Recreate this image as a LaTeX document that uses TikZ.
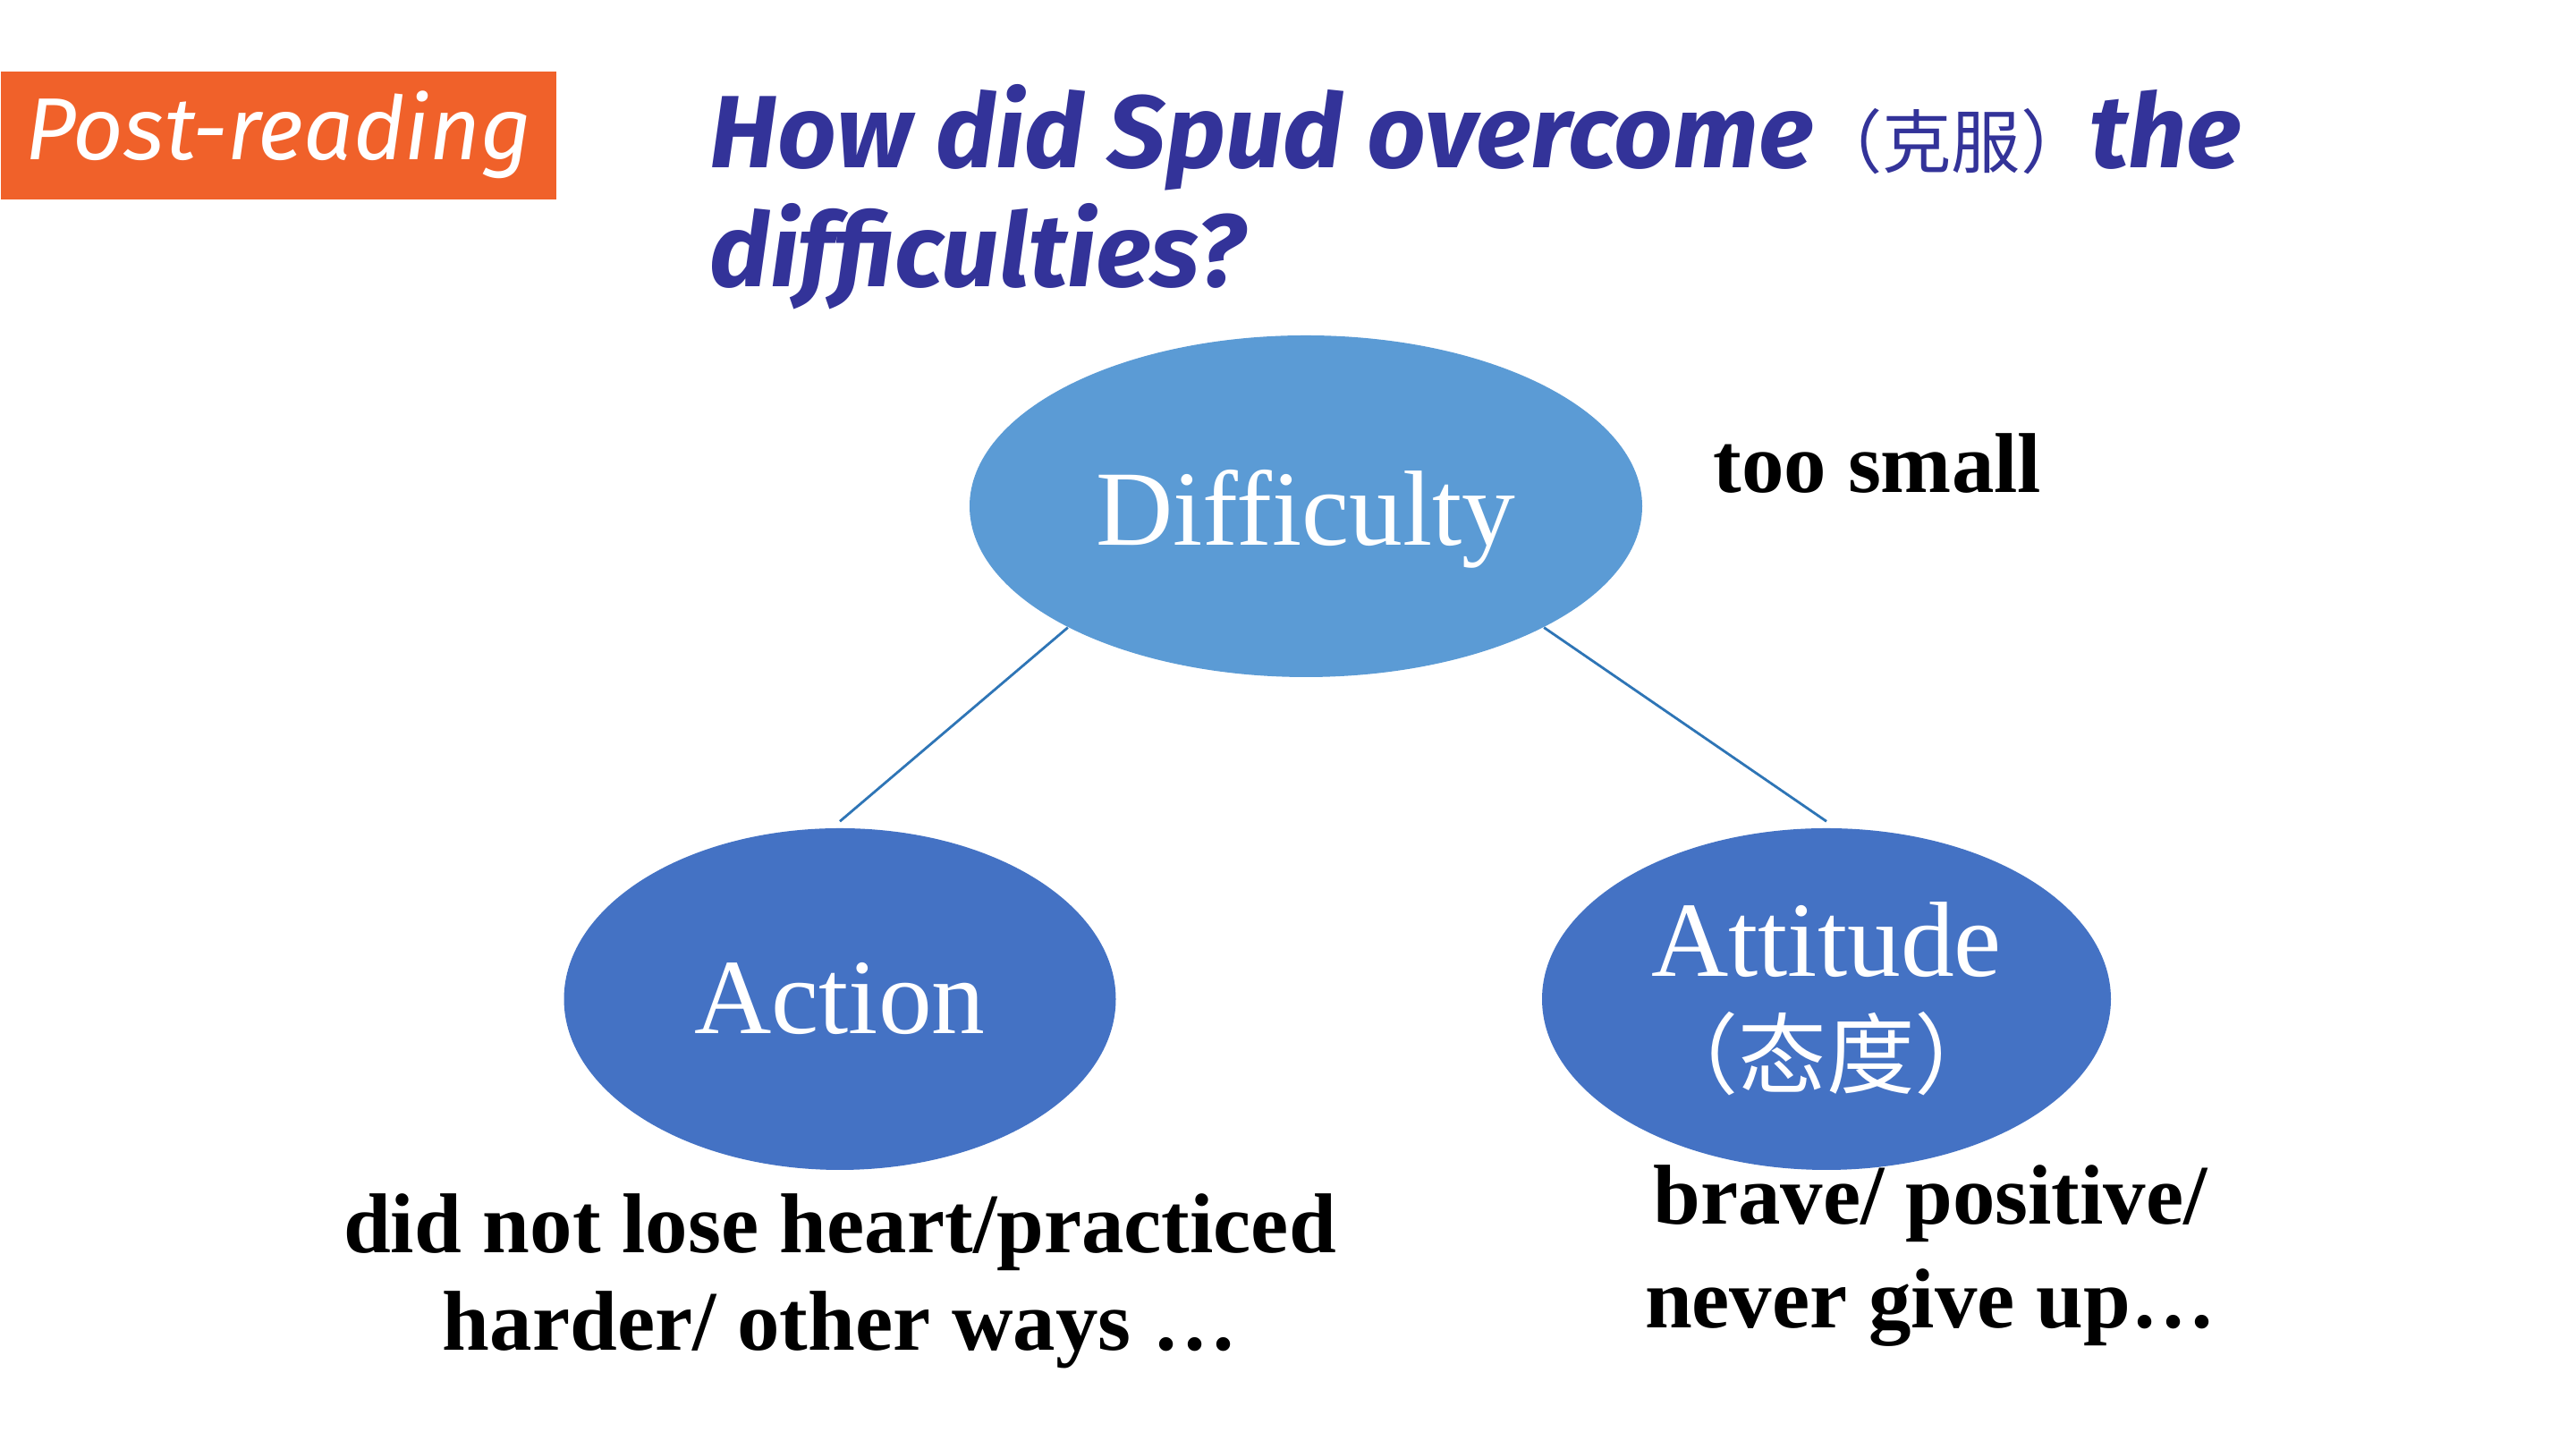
\documentclass[tikz,border=0pt]{standalone}
\usepackage{fontspec}
\setmainfont{Liberation Serif}
\newfontfamily\handfont{Fira Sans}
\newfontfamily\cjk{Noto Sans CJK SC}
\usetikzlibrary{shapes.geometric}
\definecolor{tagorange}{HTML}{F0612A}
\definecolor{titleblue}{HTML}{333399}
\definecolor{lightblob}{HTML}{5B9BD5}
\definecolor{darkblob}{HTML}{4472C4}
\definecolor{linkblue}{HTML}{2E75B6}
\begin{document}
\begin{tikzpicture}[
    blob/.style={ellipse,inner sep=0pt,minimum height=3.82cm,text=white,
        font=\fontsize{34}{34}\selectfont,align=center},
    note/.style={inner sep=0pt,align=center,font=\fontsize{27}{31}\selectfont\bfseries},
    link/.style={linkblue,line width=0.8pt}]
    \useasboundingbox[fill=white] (0,0) rectangle (28.8,16.2);
    \node[fill=tagorange,minimum width=6.21cm,minimum height=1.43cm,anchor=north west,
        inner sep=0pt,text=white,font=\handfont\itshape\fontsize{28}{28}\selectfont]
        (tag) at (0,15.41) {Post-reading};
    \node[anchor=base west,inner sep=0pt,align=left,text=titleblue,
        font=\handfont\bfseries\itshape\fontsize{32.7}{38}\selectfont] (question) at (7.93,12.99)
        {How did Spud overcome{\cjk\mdseries\upshape\fontsize{22}{22}\selectfont（克服）}the\\difficulties?};
    \node[blob,fill=lightblob,minimum width=7.52cm,text height=1.1cm,text depth=0.22cm]
        (D) at (14.60,10.54) {Difficulty};
    \node[blob,fill=darkblob,minimum width=6.17cm] (A1) at (9.39,5.03) {Action};
    \node[blob,fill=darkblob,minimum width=6.36cm] (A2) at (20.42,5.03)
        {Attitude\\[0.05cm]{\cjk\fontsize{28}{34}\selectfont（态度）}};
    \draw[link] (D.207) -- ([yshift=0.07cm]A1.north);
    \draw[link] (D.333) -- ([yshift=0.07cm]A2.north);
    \node[note,anchor=base] (small) at (20.99,10.69) {too small};
    \node[note,anchor=north] (actnote) at (9.39,2.86) {did not lose heart/practiced\\harder/ other ways …};
    \node[note,anchor=north,font=\fontsize{27}{33}\selectfont\bfseries] (attnote) at (21.58,3.18)
        {brave/ positive/\\never give up…};
\end{tikzpicture}
\end{document}
